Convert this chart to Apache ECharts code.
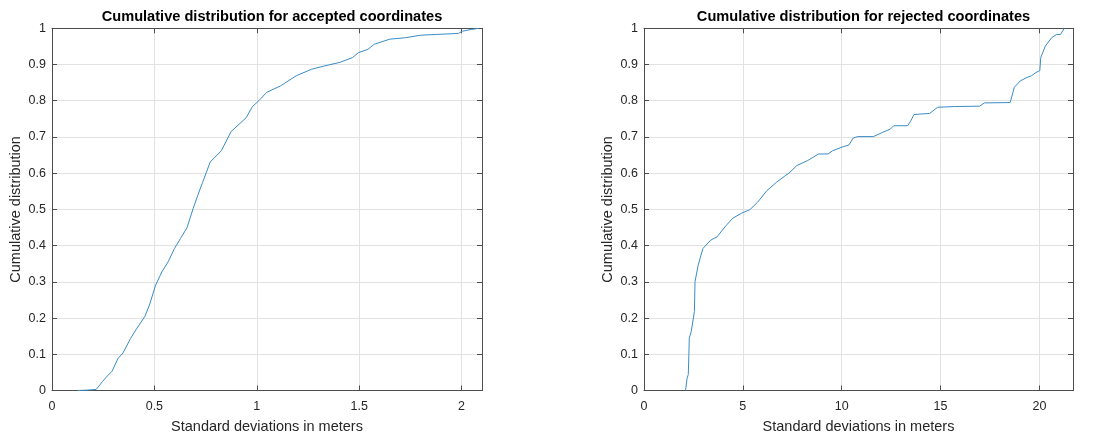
<!DOCTYPE html>
<html>
<head>
<meta charset="utf-8">
<script src="https://cdn.jsdelivr.net/npm/echarts@6/dist/echarts.min.js"></script>
<style>
  html, body { margin: 0; padding: 0; background: #fff; }
  #chart { width: 1106px; height: 439px; }
</style>
</head>
<body>
<div id="chart"></div>
<script>
// accepted coordinates: std deviation (m) vs cumulative fraction
var acceptedX = [0.125, 0.17, 0.216, 0.247, 0.27, 0.293, 0.323, 0.346, 0.384, 0.415, 0.453, 0.476, 0.506, 0.537, 0.567, 0.598, 0.628, 0.659, 0.689, 0.712, 0.735, 0.773, 0.827, 0.875, 0.948, 0.979, 1.01, 1.048, 1.116, 1.193, 1.268, 1.33, 1.406, 1.467, 1.497, 1.543, 1.574, 1.65, 1.726, 1.802, 1.879, 1.985, 2.005, 2.05, 2.085];
var acceptedY = [0, 0.001, 0.003, 0.025, 0.04, 0.053, 0.089, 0.103, 0.144, 0.172, 0.204, 0.236, 0.291, 0.328, 0.355, 0.392, 0.42, 0.449, 0.502, 0.539, 0.574, 0.631, 0.662, 0.715, 0.753, 0.784, 0.80, 0.823, 0.841, 0.869, 0.887, 0.896, 0.906, 0.919, 0.933, 0.942, 0.956, 0.97, 0.974, 0.981, 0.983, 0.986, 0.992, 0.997, 1.0];

// rejected coordinates
var rejectedX = [2.10, 2.18, 2.24, 2.27, 2.29, 2.39, 2.55, 2.58, 2.74, 2.98, 3.37, 3.69, 4.16, 4.5, 4.95, 5.35, 5.75, 6.22, 6.54, 6.70, 7.17, 7.33, 7.73, 8.28, 8.83, 9.31, 9.54, 10.02, 10.37, 10.58, 10.81, 11.6, 12.08, 12.47, 12.63, 13.34, 13.5, 13.66, 14.45, 14.85, 15.72, 16.98, 17.22, 18.52, 18.6, 18.73, 19.04, 19.36, 19.6, 19.83, 20.02, 20.07, 20.3, 20.62, 20.86, 21.07, 21.26];
var rejectedY = [0, 0.034, 0.044, 0.10, 0.144, 0.163, 0.218, 0.30, 0.346, 0.392, 0.415, 0.424, 0.456, 0.476, 0.49, 0.499, 0.52, 0.552, 0.567, 0.575, 0.594, 0.600, 0.621, 0.635, 0.653, 0.653, 0.662, 0.672, 0.678, 0.697, 0.701, 0.701, 0.713, 0.722, 0.731, 0.731, 0.745, 0.762, 0.765, 0.782, 0.784, 0.785, 0.794, 0.795, 0.81, 0.837, 0.855, 0.864, 0.869, 0.878, 0.883, 0.919, 0.951, 0.974, 0.983, 0.983, 1.0];

var titles = ['Cumulative distribution for accepted coordinates', 'Cumulative distribution for rejected coordinates'];
var xName = 'Standard deviations in meters';
var yName = 'Cumulative distribution';
var xMax = [2.1, 21.7];
var xStep = [0.5, 5];

function zip(xs, ys) {
  var out = [];
  for (var i = 0; i < xs.length; i++) out.push([xs[i], ys[i]]);
  return out;
}

var axisColor = '#4d4d4d';
var gridColor = '#e2e2e2';
var textColor = '#262626';
var font = 'Liberation Sans, Arial, sans-serif';

// only label the regular steps (hide the odd max value)
function onStep(step) {
  return function (v) {
    var k = v / step;
    return Math.abs(k - Math.round(k)) < 1e-6 ? String(+v.toFixed(2)) : '';
  };
}

var grids = [
  { left: 52, top: 28.3, width: 430, height: 364 },
  { left: 644, top: 28.3, width: 429, height: 364 }
];

var xAxes = [], yAxes = [], series = [], titleList = [];
for (var g = 0; g < 2; g++) {
  var centerX = grids[g].left + grids[g].width / 2;
  titleList.push({
    text: titles[g], left: centerX, top: 4, textAlign: 'center',
    textStyle: { fontFamily: font, fontSize: 14.6, fontWeight: 'bold', color: '#000' }
  });
  // bottom + mirrored top x axis
  xAxes.push({
    type: 'value', gridIndex: g, min: 0, max: xMax[g], interval: xStep[g], position: 'bottom',
    name: xName, nameLocation: 'middle', nameGap: 28.5,
    nameTextStyle: { fontFamily: font, fontSize: 14.5, color: textColor },
    axisLine: { show: true, onZero: false, lineStyle: { color: axisColor, width: 1 } },
    axisTick: { show: true, inside: true, length: 5, lineStyle: { color: axisColor } },
    axisLabel: { margin: 9.5, fontFamily: font, fontSize: 12.5, color: textColor, formatter: onStep(xStep[g]) },
    splitLine: { show: true, lineStyle: { color: gridColor, width: 1 } }
  });
  xAxes.push({
    type: 'value', gridIndex: g, min: 0, max: xMax[g], interval: xStep[g], position: 'top',
    axisLine: { show: true, onZero: false, lineStyle: { color: axisColor, width: 1 } },
    axisTick: { show: true, inside: true, length: 5, lineStyle: { color: axisColor } },
    axisLabel: { show: false },
    splitLine: { show: false }
  });
  // left + mirrored right y axis
  yAxes.push({
    type: 'value', gridIndex: g, min: 0, max: 1, interval: 0.1, position: 'left',
    name: yName, nameLocation: 'middle', nameGap: 29,
    nameTextStyle: { fontFamily: font, fontSize: 14.5, color: textColor },
    axisLine: { show: true, onZero: false, lineStyle: { color: axisColor, width: 1 } },
    axisTick: { show: true, inside: true, length: 5, lineStyle: { color: axisColor } },
    axisLabel: { margin: 6, fontFamily: font, fontSize: 12.5, color: textColor, formatter: onStep(0.1) },
    splitLine: { show: true, lineStyle: { color: gridColor, width: 1 } }
  });
  yAxes.push({
    type: 'value', gridIndex: g, min: 0, max: 1, interval: 0.1, position: 'right',
    axisLine: { show: true, onZero: false, lineStyle: { color: axisColor, width: 1 } },
    axisTick: { show: true, inside: true, length: 5, lineStyle: { color: axisColor } },
    axisLabel: { show: false },
    splitLine: { show: false }
  });
}

series.push({
  type: 'line', xAxisIndex: 0, yAxisIndex: 0, data: zip(acceptedX, acceptedY),
  showSymbol: false, lineStyle: { color: '#3a8cc5', width: 1 }, silent: true
});
series.push({
  type: 'line', xAxisIndex: 2, yAxisIndex: 2, data: zip(rejectedX, rejectedY),
  showSymbol: false, lineStyle: { color: '#3a8cc5', width: 1 }, silent: true
});

var chart = echarts.init(document.getElementById('chart'), null, { renderer: 'canvas' });
chart.setOption({
  animation: false,
  backgroundColor: '#fff',
  title: titleList,
  grid: grids,
  xAxis: xAxes,
  yAxis: yAxes,
  series: series
});
</script>
</body>
</html>
